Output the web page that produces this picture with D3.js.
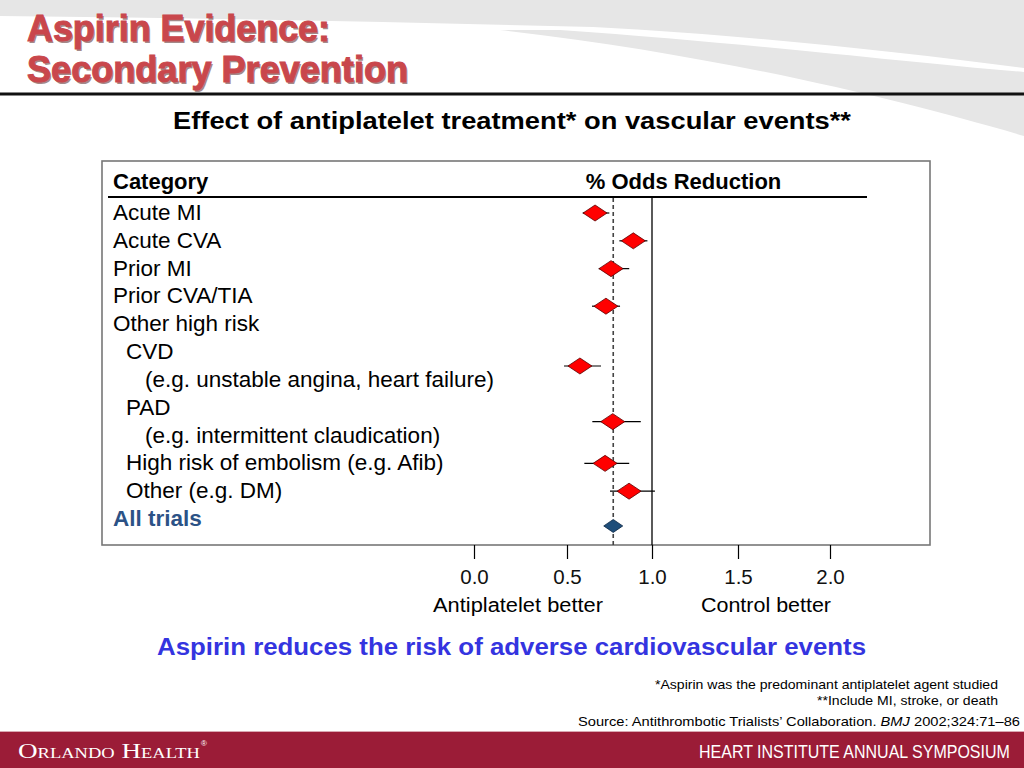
<!DOCTYPE html>
<html><head><meta charset="utf-8">
<script src="https://cdn.jsdelivr.net/npm/d3@7"></script>
<style>html,body{margin:0;padding:0;background:#fff;}svg{display:block;}</style>
</head><body>
<script>
// ---- data ----
const rowLabels = ["Acute MI","Acute CVA","Prior MI","Prior CVA/TIA","Other high risk","CVD","(e.g. unstable angina, heart failure)","PAD","(e.g. intermittent claudication)","High risk of embolism (e.g. Afib)","Other (e.g. DM)","All trials"];
const rowIndent = [0,0,0,0,0,1,2,1,2,1,1,0];
const estNames = ["Acute MI","Acute CVA","Prior MI","Prior CVA/TIA","CVD","PAD","High risk of embolism","Other","All trials"];
const estRow   = [0, 1, 2, 3.35, 5.5, 7.5, 9, 10, 11.25];
const estOR    = [0.665, 0.89, 0.759, 0.729, 0.576, 0.769, 0.724, 0.865, 0.772];
const estLow   = [0.592, 0.808, 0.686, 0.647, 0.484, 0.649, 0.602, 0.753, null];
const estHigh  = [0.749, 0.973, 0.866, 0.812, 0.70, 0.934, 0.866, 1.017, null];
const overallOR = 0.772;
const tickValues = [0, 0.5, 1.0, 1.5, 2.0];

const W = 1024, H = 768;
const svg = d3.select("body").append("svg").attr("width", W).attr("height", H);
const SANS = "'Liberation Sans', Arial, sans-serif";

// background swoosh
svg.append("rect").attr("width", W).attr("height", H).attr("fill", "#fff");
svg.append("path").attr("fill", "#e6e6e6")
  .attr("d", "M0,0 H1024 V68 C900,52 760,36 593,27 C400,22 200,18 0,16 Z");
svg.append("path").attr("fill", "#e6e6e6")
  .attr("d", "M560,30 C760,44 900,62 1024,72 V136 C900,100 720,55 500,30 Z");

// title
const titleLines = [["Aspirin Evidence:", 41, 303], ["Secondary Prevention", 82, 381]];
titleLines.forEach(([t, y, len]) => {
  svg.append("text").attr("x", 28.5).attr("y", y + 1.5).text(t)
    .attr("font-family", SANS).attr("font-weight", 900).attr("font-size", 36)
    .attr("textLength", len).attr("lengthAdjust", "spacingAndGlyphs")
    .attr("fill", "#5a2a2a").attr("opacity", 0.55);
  svg.append("text").attr("x", 27).attr("y", y).text(t)
    .attr("font-family", SANS).attr("font-weight", 900).attr("font-size", 36)
    .attr("textLength", len).attr("lengthAdjust", "spacingAndGlyphs")
    .attr("fill", "#c9474c").attr("stroke", "#c9474c").attr("stroke-width", 1);
});
svg.append("rect").attr("x", 0).attr("y", 92.5).attr("width", W).attr("height", 3).attr("fill", "#111");

// subtitle
svg.append("text").attr("x", 173).attr("y", 129)
  .text("Effect of antiplatelet treatment* on vascular events**")
  .attr("font-family", SANS).attr("font-weight", "bold").attr("font-size", 23.5)
  .attr("textLength", 678).attr("lengthAdjust", "spacingAndGlyphs").attr("fill", "#000");

// box
const box = {x: 102, y: 161, w: 828, h: 384};
svg.append("rect").attr("x", box.x).attr("y", box.y).attr("width", box.w).attr("height", box.h)
  .attr("fill", "#fff").attr("stroke", "#777").attr("stroke-width", 1.6);

// headers
svg.append("text").attr("x", 113).attr("y", 189).text("Category")
  .attr("font-family", SANS).attr("font-weight", "bold").attr("font-size", 22).attr("fill", "#000");
svg.append("text").attr("x", 683.5).attr("y", 189).text("% Odds Reduction").attr("text-anchor", "middle")
  .attr("font-family", SANS).attr("font-weight", "bold").attr("font-size", 22).attr("fill", "#000");
svg.append("line").attr("x1", 108).attr("x2", 867).attr("y1", 197).attr("y2", 197)
  .attr("stroke", "#000").attr("stroke-width", 2);

// scales
const x = d3.scaleLinear().domain(tickValues).range([474, 567, 652, 738, 830]);
const yRow = d3.scaleLinear().domain([0, rowLabels.length - 1]).range([220, 526]);
const indentX = [113, 126, 145];

// row labels
svg.append("g").selectAll("text").data(rowLabels).join("text")
  .attr("x", (d, i) => indentX[rowIndent[i]])
  .attr("y", (d, i) => yRow(i))
  .text(d => d)
  .attr("font-family", SANS).attr("font-size", 22.5)
  .attr("font-weight", (d, i) => i === rowLabels.length - 1 ? "bold" : "normal")
  .attr("fill", (d, i) => i === rowLabels.length - 1 ? "#2c5286" : "#000");

// reference lines
const yTop = 198, yBot = box.y + box.h;
svg.append("line").attr("x1", x(1)).attr("x2", x(1)).attr("y1", yTop).attr("y2", yBot)
  .attr("stroke", "#000").attr("stroke-width", 1.3);
svg.append("line").attr("x1", x(overallOR)).attr("x2", x(overallOR)).attr("y1", yTop).attr("y2", yBot)
  .attr("stroke", "#444").attr("stroke-width", 1.6).attr("stroke-dasharray", "4,3");

// estimates
const est = estNames.map((n, i) => ({name: n, row: estRow[i], or: estOR[i], lo: estLow[i], hi: estHigh[i], overall: i === estNames.length - 1}));
const markY = d => yRow(d.row) - 7;
const gE = svg.append("g");
gE.selectAll("line").data(est.filter(d => d.lo != null)).join("line")
  .attr("x1", d => x(d.lo)).attr("x2", d => x(d.hi))
  .attr("y1", markY).attr("y2", markY)
  .attr("stroke", "#000").attr("stroke-width", 1.2);
gE.selectAll("path").data(est).join("path")
  .attr("d", d => {
    const cx = x(d.or), cy = markY(d);
    const hw = d.overall ? 9.5 : 12, hh = d.overall ? 6.5 : 8;
    return `M${cx - hw},${cy} L${cx},${cy - hh} L${cx + hw},${cy} L${cx},${cy + hh} Z`;
  })
  .attr("fill", d => d.overall ? "#1f4e7a" : "#ff0000")
  .attr("stroke", d => d.overall ? "#0d2744" : "#5a0000").attr("stroke-width", 0.8);

// axis
const axis = d3.axisBottom(x).tickValues(tickValues).tickFormat(d3.format(".1f")).tickSize(14).tickPadding(10);
const gA = svg.append("g").attr("transform", `translate(0,${yBot})`).call(axis);
gA.select(".domain").remove();
gA.selectAll(".tick line").attr("stroke", "#000").attr("stroke-width", 1.2);
gA.selectAll(".tick text").attr("font-family", SANS).attr("font-size", 20.5).attr("fill", "#111");

svg.append("text").attr("x", 433).attr("y", 612).text("Antiplatelet better")
  .attr("font-family", SANS).attr("font-size", 20).attr("fill", "#000")
  .attr("textLength", 170).attr("lengthAdjust", "spacingAndGlyphs");
svg.append("text").attr("x", 701).attr("y", 612).text("Control better")
  .attr("font-family", SANS).attr("font-size", 20).attr("fill", "#000")
  .attr("textLength", 130).attr("lengthAdjust", "spacingAndGlyphs");

// takeaway
svg.append("text").attr("x", 157).attr("y", 655)
  .text("Aspirin reduces the risk of adverse cardiovascular events")
  .attr("font-family", SANS).attr("font-weight", "bold").attr("font-size", 23)
  .attr("textLength", 709).attr("lengthAdjust", "spacingAndGlyphs").attr("fill", "#3434e0");

// footnotes
const fn = [["*Aspirin was the predominant antiplatelet agent studied", 998, 689, 343],
            ["**Include MI, stroke, or death", 998, 705, 181]];
fn.forEach(([t, xr, y, len]) => {
  svg.append("text").attr("x", xr - len).attr("y", y).text(t)
    .attr("font-family", SANS).attr("font-size", 13).attr("fill", "#000")
    .attr("textLength", len).attr("lengthAdjust", "spacingAndGlyphs");
});
const src = svg.append("text").attr("x", 578).attr("y", 726)
  .attr("font-family", SANS).attr("font-size", 13).attr("fill", "#000")
  .attr("textLength", 442).attr("lengthAdjust", "spacingAndGlyphs");
src.append("tspan").text("Source: Antithrombotic Trialists\u2019 Collaboration. ");
src.append("tspan").attr("font-style", "italic").text("BMJ");
src.append("tspan").text(" 2002;324:71\u201386");

// footer bar
svg.append("rect").attr("x", 0).attr("y", 731).attr("width", W).attr("height", 1).attr("fill", "#d9a8b2");
svg.append("rect").attr("x", 0).attr("y", 732).attr("width", W).attr("height", 36).attr("fill", "#9b1c37");
svg.append("text").attr("x", 18).attr("y", 758)
  .attr("font-family", "'Liberation Serif', 'DejaVu Serif', serif").attr("font-size", 22).attr("fill", "#fff")
  .attr("font-variant", "small-caps").attr("textLength", 182).attr("lengthAdjust", "spacingAndGlyphs")
  .text("Orlando Health");
svg.append("text").attr("x", 201).attr("y", 746).text("\u00ae")
  .attr("font-family", SANS).attr("font-size", 8).attr("fill", "#fff");
svg.append("text").attr("transform", "translate(699,758) scale(0.89,1)")
  .text("HEART INSTITUTE ANNUAL SYMPOSIUM")
  .attr("font-family", SANS).attr("font-size", 18).attr("fill", "#fff");
</script>
</body></html>
